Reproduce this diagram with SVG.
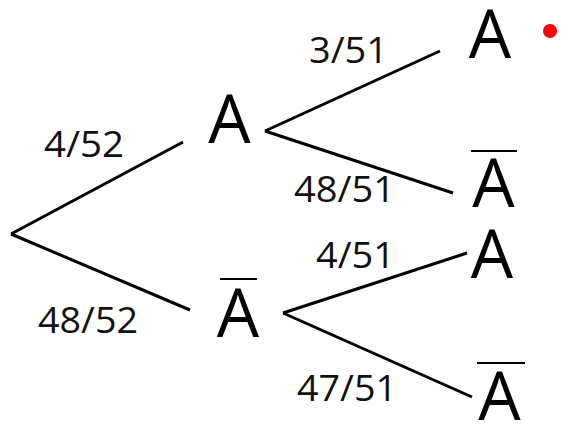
<svg xmlns="http://www.w3.org/2000/svg" width="561" height="430" viewBox="0 0 561 430">
<style>
.node{font-family:"Open Sans","Liberation Sans",sans-serif;font-size:67px;fill:#000;text-anchor:middle}
.lbl{font-family:"Open Sans","Liberation Sans",sans-serif;font-size:36px;fill:#111}
.bar{stroke:#000;stroke-width:2}
.edge{stroke:#000;stroke-width:3;fill:none;stroke-linecap:butt}
</style>
<rect width="561" height="430" fill="#fff"/>
<g id="connectors">
<line class="edge" x1="11" y1="234" x2="183" y2="142"/>
<line class="edge" x1="11" y1="234" x2="190" y2="310"/>
<line class="edge" x1="265" y1="131" x2="440" y2="51"/>
<line class="edge" x1="265" y1="131" x2="453" y2="193"/>
<line class="edge" x1="283" y1="313" x2="467" y2="253"/>
<line class="edge" x1="283" y1="313" x2="472" y2="397"/>
<text class="lbl" x="44" y="157" textLength="80" lengthAdjust="spacingAndGlyphs">4/52</text>
<text class="lbl" x="38" y="333" textLength="100" lengthAdjust="spacingAndGlyphs">48/52</text>
<text class="lbl" x="309" y="63" textLength="79" lengthAdjust="spacingAndGlyphs">3/51</text>
<text class="lbl" x="294" y="202" textLength="101" lengthAdjust="spacingAndGlyphs">48/51</text>
<text class="lbl" x="316" y="268" textLength="79" lengthAdjust="spacingAndGlyphs">4/51</text>
<text class="lbl" x="297" y="401" textLength="100" lengthAdjust="spacingAndGlyphs">47/51</text>
</g>
<g id="n_A1"><text class="node" x="229.5" y="143">A</text></g>
<g id="n_notA1"><line class="bar" x1="220" y1="279" x2="257" y2="279"/><text class="node" x="238" y="337">A</text></g>
<g id="n_AA"><text class="node" x="490" y="58">A</text></g>
<g id="n_AnotA"><line class="bar" x1="471" y1="151" x2="517" y2="151"/><text class="node" x="493.5" y="207">A</text></g>
<g id="n_notAA"><text class="node" x="492" y="278">A</text></g>
<g id="n_notAnotA"><line class="bar" x1="477" y1="363" x2="525" y2="363"/><text class="node" x="499.5" y="420">A</text></g>
<g id="marker_dot"><circle cx="550" cy="31" r="7" fill="#f00"/></g>
</svg>
